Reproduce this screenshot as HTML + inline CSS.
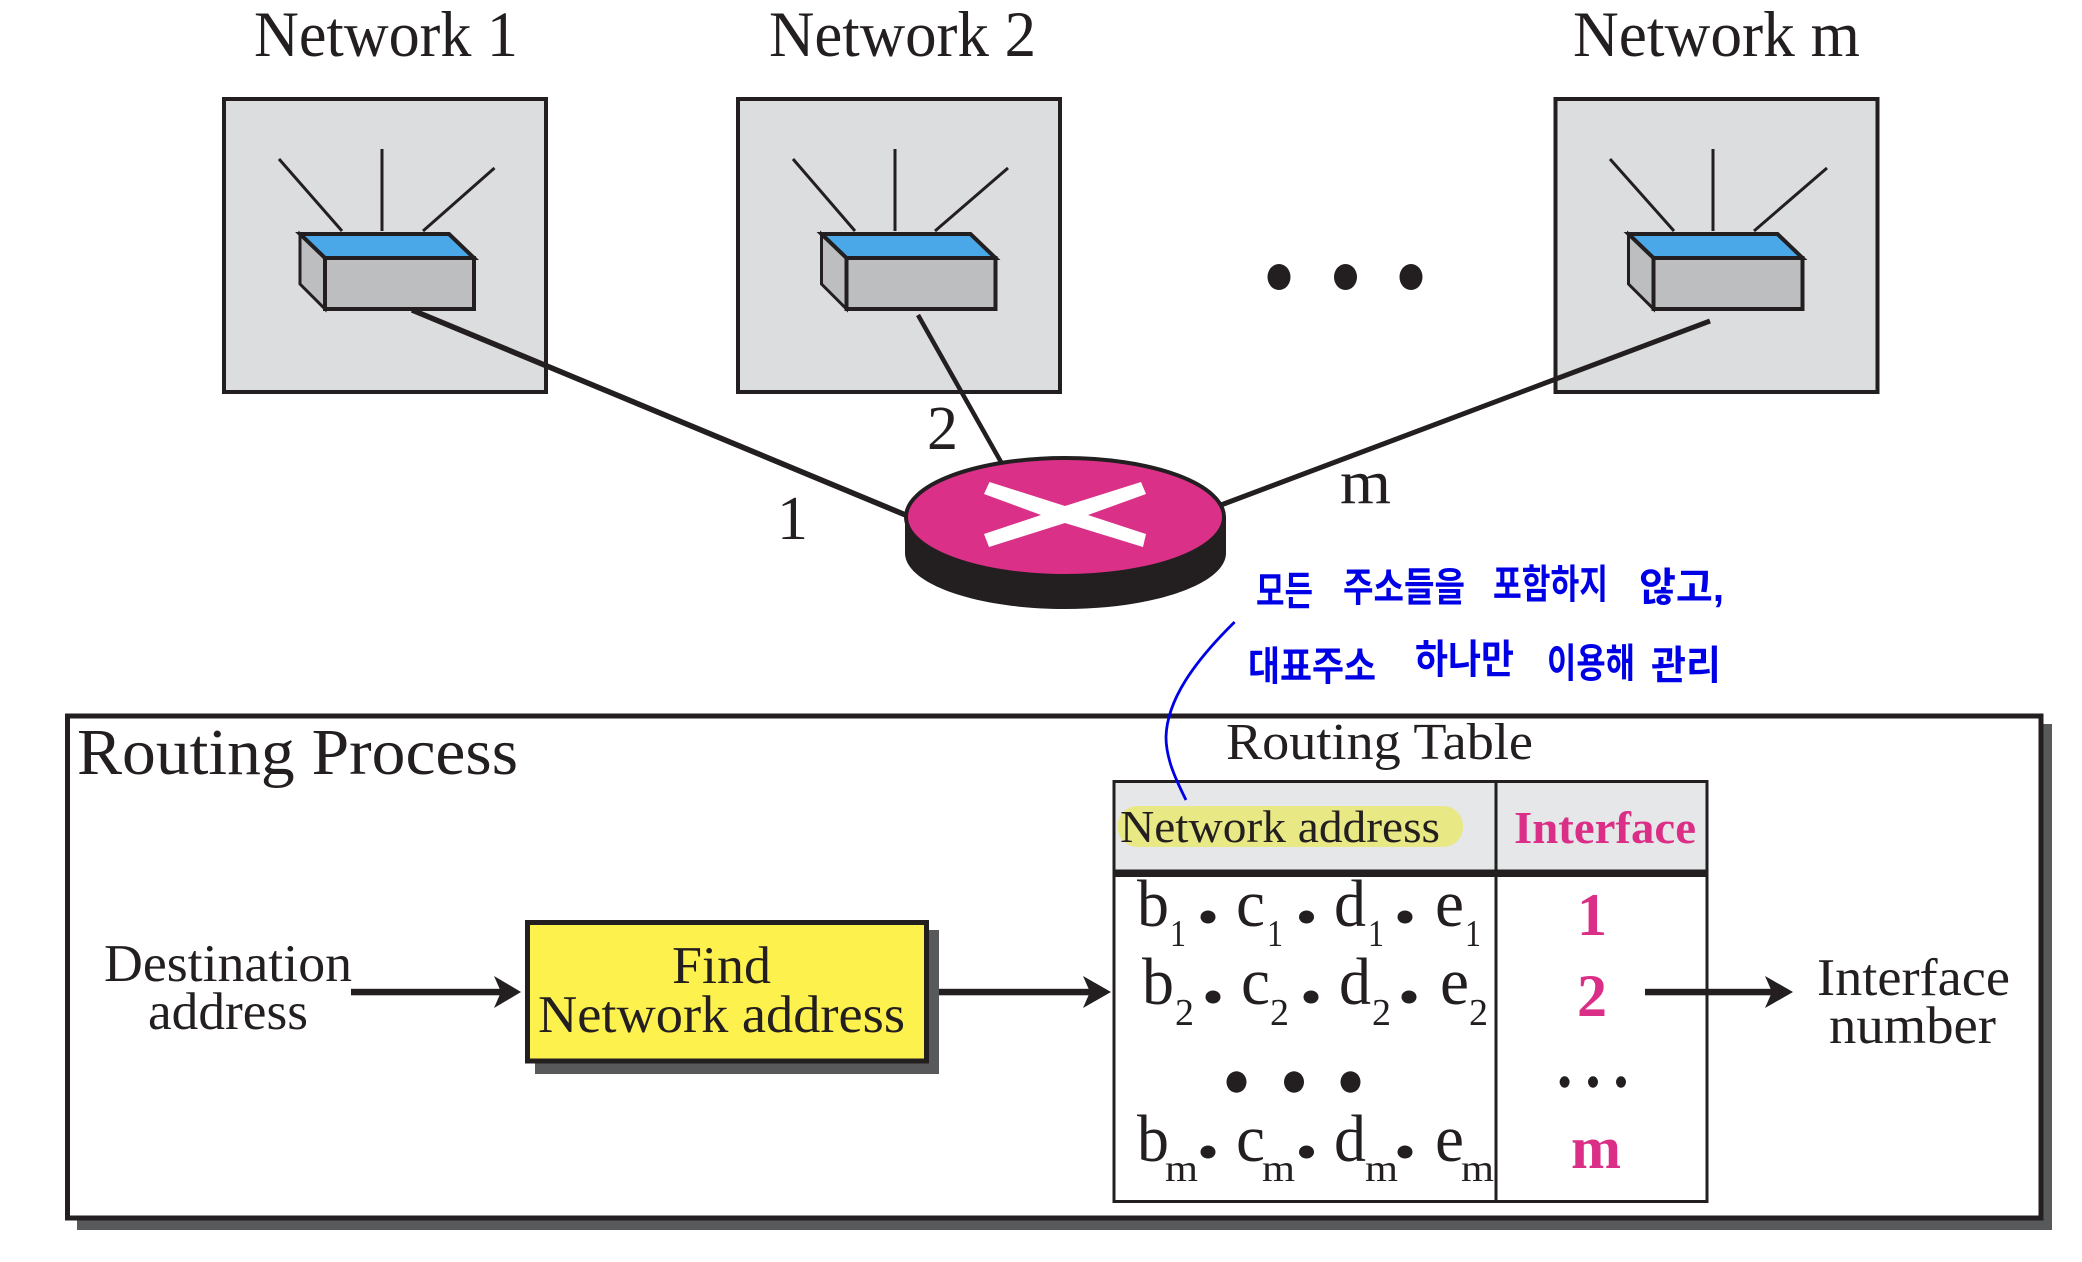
<!DOCTYPE html>
<html><head><meta charset="utf-8"><style>
html,body{margin:0;padding:0;background:#fff;width:2082px;height:1262px;overflow:hidden}
svg{display:block}
text{font-family:"Liberation Serif",serif;fill:#231f20}
.p{fill:#db2f87;font-weight:bold}
.k{font-family:"Liberation Sans","Noto Sans CJK KR",sans-serif;fill:#0000e6;font-weight:700;font-size:40px}
</style></head><body>
<svg width="2082" height="1262" viewBox="0 0 2082 1262" xmlns="http://www.w3.org/2000/svg">
<defs>
<g id="sw" stroke="#231f20" stroke-linejoin="miter">
<polygon points="0,0 25,24 25,75 0,50" fill="#bcbec0" stroke-width="3"/>
<rect x="25" y="24" width="149" height="51" fill="#bcbec0" stroke-width="4"/>
<polygon points="0,0 149,0 174,24 25,24" fill="#4aa8e8" stroke-width="4"/>
</g>
</defs>
<!-- network boxes -->
<g fill="#dcddde" stroke="#231f20" stroke-width="4">
<rect x="224" y="99" width="322" height="293"/>
<rect x="738" y="99" width="322" height="293"/>
<rect x="1555.500" y="99" width="322" height="293"/>
</g>
<!-- antennas -->
<g stroke="#231f20" stroke-width="3" fill="none">
<path d="M279 159L342 231M382 149V231M494.500 168L423 231"/>
<path d="M793 159L855 231M895 149V231M1008 168L935 231"/>
<path d="M1610 159L1674 231M1713 149V231M1827 168L1754 231"/>
</g>
<use href="#sw" x="300" y="234"/>
<use href="#sw" x="821.500" y="234"/>
<use href="#sw" x="1628.500" y="234"/>
<!-- links -->
<g stroke="#231f20" fill="none">
<path d="M412 310L908 516" stroke-width="5.500"/>
<path d="M918 315L1001 462" stroke-width="4.500"/>
<path d="M1710 321L1221 505" stroke-width="5"/>
</g>
<!-- router -->
<path d="M905 517V553C905 584 977 609 1065 609C1153 609 1226 584 1226 553V517Z" fill="#231f20"/>
<ellipse cx="1065" cy="517" rx="159" ry="59" fill="#da3087" stroke="#231f20" stroke-width="4"/>
<polygon fill="#fff" points="989.500,482 1065,506 1141,482 1146,494 1088,515 1146,534 1143,547 1065,523 989,547 984,534 1041,515 984,494"/>
<!-- dots -->
<g fill="#231f20">
<ellipse cx="1279" cy="277" rx="11.500" ry="13"/><ellipse cx="1345.500" cy="277" rx="11.500" ry="13"/><ellipse cx="1411" cy="277" rx="11.500" ry="13"/>
</g>
<!-- headings -->
<text x="254" y="56" font-size="65" textLength="264" lengthAdjust="spacingAndGlyphs">Network 1</text>
<text x="769" y="56" font-size="65" textLength="267" lengthAdjust="spacingAndGlyphs">Network 2</text>
<text x="1573" y="56" font-size="65" textLength="287" lengthAdjust="spacingAndGlyphs">Network m</text>
<text x="777" y="539" font-size="62">1</text>
<text x="927" y="449" font-size="62">2</text>
<text x="1340" y="503" font-size="62" textLength="51" lengthAdjust="spacingAndGlyphs">m</text>
<!-- frame -->
<rect x="77" y="724" width="1975" height="506" fill="#58595b"/>
<rect x="67.500" y="716" width="1973.500" height="502" fill="#fff" stroke="#231f20" stroke-width="5"/>
<text x="77" y="774" font-size="66" textLength="441" lengthAdjust="spacingAndGlyphs">Routing Process</text>
<!-- find box -->
<rect x="535" y="930" width="404" height="144" fill="#58595b"/>
<rect x="527.500" y="922.500" width="399" height="138.500" fill="#fdf14d" stroke="#231f20" stroke-width="5"/>
<text x="672" y="983" font-size="53" textLength="99" lengthAdjust="spacingAndGlyphs">Find</text>
<text x="538" y="1032" font-size="53" textLength="367" lengthAdjust="spacingAndGlyphs">Network address</text>
<text x="104" y="981" font-size="53" textLength="248" lengthAdjust="spacingAndGlyphs">Destination</text>
<text x="148" y="1029" font-size="53" textLength="160" lengthAdjust="spacingAndGlyphs">address</text>
<!-- table -->
<rect x="1114" y="781.500" width="593" height="420" fill="#fff" stroke="#231f20" stroke-width="3"/>
<rect x="1114" y="781.500" width="593" height="89.500" fill="#e6e7e8" stroke="#231f20" stroke-width="3"/>
<rect x="1114" y="871" width="593" height="6" fill="#231f20"/>
<rect x="1494.500" y="781.500" width="3" height="420" fill="#231f20"/>
<rect x="1117.500" y="806" width="345.500" height="41" rx="20" fill="#e8e884"/>
<text x="1226" y="759" font-size="52" textLength="307" lengthAdjust="spacingAndGlyphs">Routing Table</text>
<text x="1120" y="842" font-size="46" textLength="320" lengthAdjust="spacingAndGlyphs">Network address</text>
<text class="p" x="1514" y="843" font-size="46" textLength="182" lengthAdjust="spacingAndGlyphs">Interface</text>
<!-- rows -->
<g font-size="67">
<text x="1137" y="926" textLength="32" lengthAdjust="spacingAndGlyphs">b</text><text x="1236" y="926" textLength="29" lengthAdjust="spacingAndGlyphs">c</text><text x="1334" y="926" textLength="32" lengthAdjust="spacingAndGlyphs">d</text><text x="1435" y="926" textLength="29" lengthAdjust="spacingAndGlyphs">e</text>
<text x="1142" y="1004" textLength="32" lengthAdjust="spacingAndGlyphs">b</text><text x="1241" y="1004" textLength="29" lengthAdjust="spacingAndGlyphs">c</text><text x="1339" y="1004" textLength="32" lengthAdjust="spacingAndGlyphs">d</text><text x="1440" y="1004" textLength="29" lengthAdjust="spacingAndGlyphs">e</text>
<text x="1137" y="1161" textLength="32" lengthAdjust="spacingAndGlyphs">b</text><text x="1236" y="1161" textLength="29" lengthAdjust="spacingAndGlyphs">c</text><text x="1334" y="1161" textLength="32" lengthAdjust="spacingAndGlyphs">d</text><text x="1435" y="1161" textLength="29" lengthAdjust="spacingAndGlyphs">e</text>
</g>
<g font-size="38">
<text x="1170" y="946" textLength="16" lengthAdjust="spacingAndGlyphs">1</text><text x="1267" y="946" textLength="16" lengthAdjust="spacingAndGlyphs">1</text><text x="1368" y="946" textLength="16" lengthAdjust="spacingAndGlyphs">1</text><text x="1465" y="946" textLength="16" lengthAdjust="spacingAndGlyphs">1</text>
<text x="1175" y="1025">2</text><text x="1270" y="1025">2</text><text x="1372" y="1025">2</text><text x="1469" y="1025">2</text>
<text x="1165" y="1181" textLength="33" lengthAdjust="spacingAndGlyphs">m</text><text x="1262" y="1181" textLength="33" lengthAdjust="spacingAndGlyphs">m</text><text x="1365" y="1181" textLength="33" lengthAdjust="spacingAndGlyphs">m</text><text x="1461" y="1181" textLength="33" lengthAdjust="spacingAndGlyphs">m</text>
</g>
<g fill="#231f20">
<ellipse cx="1208" cy="917" rx="7.500" ry="6.500"/><ellipse cx="1306.500" cy="917" rx="7.500" ry="6.500"/><ellipse cx="1405" cy="917" rx="7.500" ry="6.500"/>
<ellipse cx="1213" cy="997" rx="7.500" ry="6.500"/><ellipse cx="1311" cy="997" rx="7.500" ry="6.500"/><ellipse cx="1409" cy="997" rx="7.500" ry="6.500"/>
<ellipse cx="1208" cy="1152" rx="7.500" ry="6.500"/><ellipse cx="1306.500" cy="1152" rx="7.500" ry="6.500"/><ellipse cx="1405" cy="1152" rx="7.500" ry="6.500"/>
<ellipse cx="1236.500" cy="1082" rx="10" ry="10.700"/><ellipse cx="1294" cy="1082" rx="10" ry="10.700"/><ellipse cx="1350.500" cy="1082" rx="10" ry="10.700"/>
<ellipse cx="1564.600" cy="1082" rx="5" ry="5.700"/><ellipse cx="1593" cy="1082" rx="5" ry="5.700"/><ellipse cx="1621" cy="1082" rx="5" ry="5.700"/>
</g>
<g font-size="60">
<text class="p" x="1577" y="935">1</text>
<text class="p" x="1577" y="1016">2</text>
<text class="p" x="1571" y="1168" textLength="50" lengthAdjust="spacingAndGlyphs">m</text>
</g>
<text x="1817" y="995" font-size="53" textLength="193" lengthAdjust="spacingAndGlyphs">Interface</text>
<text x="1829" y="1043" font-size="53" textLength="167" lengthAdjust="spacingAndGlyphs">number</text>
<!-- arrows -->
<g fill="#231f20">
<rect x="351" y="988.800" width="150" height="6.500"/><polygon points="494,976 521,992 494,1008 501,992"/>
<rect x="939" y="988.800" width="151" height="6.500"/><polygon points="1083,976 1111,992 1083,1008 1090,992"/>
<rect x="1645" y="988.800" width="127" height="6.500"/><polygon points="1765,976 1793,992 1765,1008 1772,992"/>
</g>
<!-- annotation -->
<path d="M1234.600 622C1194 662 1167 700 1166 737C1166 758 1175 778 1186 800" fill="none" stroke="#0000e6" stroke-width="2.800"/>
<text class="k" x="1256" y="605" textLength="57" lengthAdjust="spacingAndGlyphs">모든</text>
<text class="k" x="1343" y="601" textLength="122" lengthAdjust="spacingAndGlyphs">주소들을</text>
<text class="k" x="1493" y="598" textLength="115" lengthAdjust="spacingAndGlyphs">포함하지</text>
<text class="k" x="1639" y="601" textLength="85" lengthAdjust="spacingAndGlyphs">않고,</text>
<text class="k" x="1248" y="680" textLength="128" lengthAdjust="spacingAndGlyphs">대표주소</text>
<text class="k" x="1415" y="673" textLength="99" lengthAdjust="spacingAndGlyphs">하나만</text>
<text class="k" x="1547" y="677" textLength="88" lengthAdjust="spacingAndGlyphs">이용해</text>
<text class="k" x="1651" y="679" textLength="70" lengthAdjust="spacingAndGlyphs">관리</text>
</svg>
</body></html>
